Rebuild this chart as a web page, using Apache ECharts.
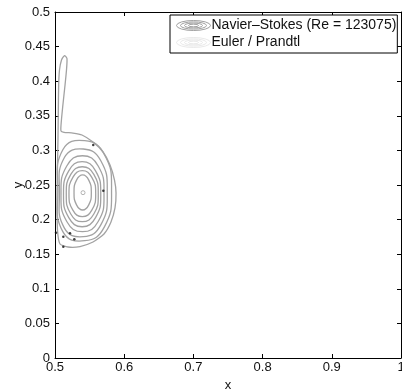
<!DOCTYPE html>
<html>
<head>
<meta charset="utf-8">
<script src="https://cdn.jsdelivr.net/npm/echarts@6/dist/echarts.min.js"></script>
<style>html,body{margin:0;padding:0;background:#fff}#c{width:402px;height:390px}</style>
</head>
<body>
<div id="c"></div>
<script>
// x ticks and y ticks
const xTicks = [0.5, 0.6, 0.7, 0.8, 0.9, 1];
const yTicks = [0, 0.05, 0.1, 0.15, 0.2, 0.25, 0.3, 0.35, 0.4, 0.45, 0.5];

// Navier–Stokes contour lines, innermost first
const contour1 = [[0.5525,0.2392],[0.5488,0.2570],[0.5400,0.2645],[0.5311,0.2570],[0.5275,0.2392],[0.5311,0.2213],[0.5400,0.2139],[0.5488,0.2213]];
const contour2 = [[0.5588,0.2374],[0.5532,0.2610],[0.5395,0.2707],[0.5258,0.2610],[0.5202,0.2374],[0.5258,0.2138],[0.5395,0.2042],[0.5532,0.2138]];
const contour3 = [[0.5625,0.2367],[0.5561,0.2653],[0.5394,0.2764],[0.5228,0.2653],[0.5163,0.2367],[0.5228,0.2081],[0.5394,0.1970],[0.5561,0.2081]];
const contour4 = [[0.5661,0.2367],[0.5586,0.2705],[0.5392,0.2837],[0.5199,0.2705],[0.5123,0.2367],[0.5199,0.2029],[0.5392,0.1897],[0.5586,0.2029]];
const contour5 = [[0.5708,0.2374],[0.5624,0.2775],[0.5397,0.2923],[0.5170,0.2775],[0.5087,0.2374],[0.5170,0.1973],[0.5397,0.1825],[0.5624,0.1973]];
const contour6 = [[0.5755,0.2387],[0.5662,0.2850],[0.5410,0.3020],[0.5134,0.2894],[0.5065,0.2387],[0.5134,0.1880],[0.5410,0.1753],[0.5662,0.1924]];
const contour7 = [[0.5817,0.2418],[0.5712,0.2945],[0.5430,0.3140],[0.5113,0.3010],[0.5043,0.2418],[0.5113,0.1826],[0.5430,0.1695],[0.5712,0.1891]];
const contour8 = [[0.5072,0.1647],[0.5036,0.1850],[0.5029,0.2283],[0.5036,0.2789],[0.5043,0.3150],[0.5048,0.3584],[0.5053,0.3945],[0.5065,0.4162],[0.5094,0.4306],[0.5137,0.4371],[0.5173,0.4328],[0.5166,0.4162],[0.5145,0.3945],[0.5111,0.3627],[0.5087,0.3367],[0.5087,0.3280],[0.5130,0.3261],[0.5260,0.3251],[0.5390,0.3223],[0.5549,0.3121],[0.5694,0.2977],[0.5795,0.2789],[0.5860,0.2572],[0.5882,0.2384],[0.5867,0.2168],[0.5809,0.1965],[0.5708,0.1792],[0.5549,0.1676],[0.5361,0.1611],[0.5188,0.1604]];
const vortexCenter = [[0.5405, 0.2389]];

// Euler / Prandtl points (small dark marks)
const eulerPoints = [[0.5014,0.1811],[0.5120,0.1753],[0.5217,0.1802],[0.5279,0.1715],[0.5120,0.1608],[0.5698,0.2418],[0.5553,0.3078]];

const contours = [contour1, contour2, contour3, contour4, contour5, contour6, contour7, contour8];
const nsName = 'Navier\u2013Stokes (Re = 123075)';
const epName = 'Euler / Prandtl';
const gray = '#a2a2a2';
const font = 'Liberation Sans';
const legendIcon = 'path://M0,5A17,5,0,1,0,34,5A17,5,0,1,0,0,5ZM4,5A13,3.6,0,1,0,30,5A13,3.6,0,1,0,4,5ZM8,5A9,2.4,0,1,0,26,5A9,2.4,0,1,0,8,5ZM12,5A5,1.3,0,1,0,22,5A5,1.3,0,1,0,12,5Z';

const chart = echarts.init(document.getElementById('c'), null, {renderer: 'canvas'});
const axisCommon = {
  axisLine: {show: true, onZero: false, lineStyle: {color: '#000', width: 1}},
  axisTick: {show: true, inside: true, length: 4, lineStyle: {color: '#000'}},
  splitLine: {show: false}
};
chart.setOption({
  animation: false,
  backgroundColor: '#fff',
  grid: {left: 55, top: 12, width: 346, height: 346, containLabel: false, outerBoundsMode: 'none'},
  legend: {
    left: 170, top: 15, orient: 'vertical',
    backgroundColor: '#fff', borderColor: '#000', borderWidth: 1,
    padding: [3, 1, 3, 4], itemGap: 2, itemWidth: 36, itemHeight: 10,
    textStyle: {fontFamily: font, fontSize: 14, color: '#111', padding: [0, 0, 0, -5]},
    data: [
      {name: nsName, icon: legendIcon, itemStyle: {color: 'none', borderColor: '#a0a0a0', borderWidth: 1}},
      {name: epName, icon: legendIcon, itemStyle: {color: 'none', borderColor: '#e4e4e4', borderWidth: 1}}
    ]
  },
  xAxis: [
    Object.assign({type: 'value', min: xTicks[0], max: xTicks[xTicks.length-1], interval: 0.1, position: 'bottom',
      name: 'x', nameLocation: 'middle', nameGap: 20,
      nameTextStyle: {fontFamily: font, fontSize: 13, color: '#111'},
      axisLabel: {fontFamily: font, fontSize: 13, color: '#111', margin: 3}}, axisCommon),
    Object.assign({type: 'value', min: xTicks[0], max: xTicks[xTicks.length-1], interval: 0.1, position: 'top',
      axisLabel: {show: false}}, axisCommon)
  ],
  yAxis: [
    Object.assign({type: 'value', min: yTicks[0], max: yTicks[yTicks.length-1], interval: 0.05, position: 'left',
      name: 'y', nameLocation: 'middle', nameGap: 30, nameRotate: 90, nameMoveOverlap: false,
      nameTextStyle: {fontFamily: font, fontSize: 13, color: '#111'},
      axisLabel: {fontFamily: font, fontSize: 13, color: '#111', margin: 5}}, axisCommon),
    Object.assign({type: 'value', min: yTicks[0], max: yTicks[yTicks.length-1], interval: 0.05, position: 'right',
      axisLabel: {show: false}}, axisCommon)
  ],
  series: [
    {
      name: nsName, type: 'custom', xAxisIndex: 0, yAxisIndex: 0,
      itemStyle: {color: gray},
      data: contours.map(c => [c[0][0], c[0][1]]),
      encode: {x: 0, y: 1},
      renderItem: function (params, api) {
        const c = contours[params.dataIndex];
        const pts = c.map(p => api.coord(p));
        return {
          type: 'polygon',
          shape: {points: pts, smooth: params.dataIndex === 7 ? 0.2 : 0.5},
          style: {fill: 'none', stroke: gray, lineWidth: 1.3}
        };
      }
    },
    {
      name: nsName, type: 'scatter', data: vortexCenter, symbol: 'circle', symbolSize: 4,
      itemStyle: {color: 'none', borderColor: gray, borderWidth: 1}
    },
    {
      name: epName, type: 'scatter', data: eulerPoints, symbol: 'circle', symbolSize: 2.5,
      itemStyle: {color: '#111'}
    }
  ]
});
</script>
</body>
</html>
